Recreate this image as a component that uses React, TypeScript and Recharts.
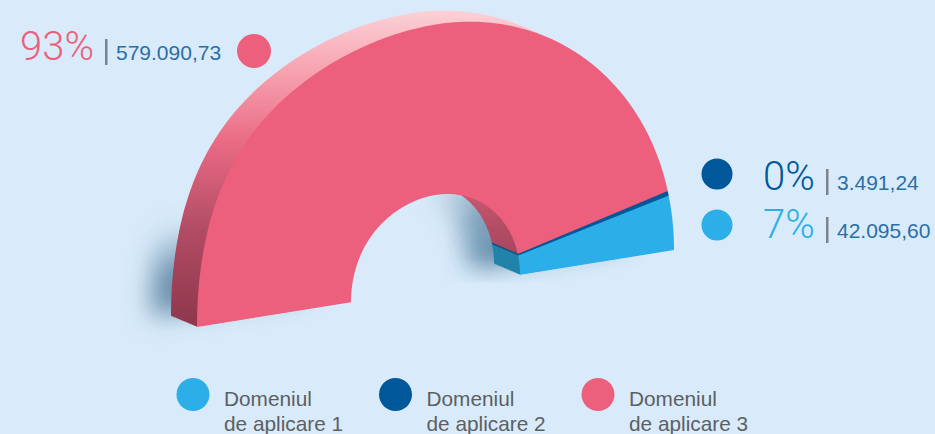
import React from 'react';
import { PieChart, Pie, Cell } from 'recharts';

const categories = ['Domeniul de aplicare 1', 'Domeniul de aplicare 2', 'Domeniul de aplicare 3'];
const values = [42095.6, 3491.24, 579090.73];
const percentLabels = ['7%', '0%', '93%'];
const valueLabels = ['42.095,60', '3.491,24', '579.090,73'];

const colors = ['#2cafe8', '#00589b', '#ed607d'];
const sideColors = ['#2183aa', '#0a4a80', 'url(#sideFill)'];

const data = categories.map((name, i) => ({ name, value: values[i] }));

const WIDTH = 935;
const HEIGHT = 434;
const OUTER = 238.5;
const INNER = 84.5;
const DEPTH_X = -26;
const DEPTH_Y = -11;

// the half ring is a tilted ellipse with some perspective on its left side,
// so project each sector by hand
const project = (cx: number, cy: number, r: number, deg: number, ox: number, oy: number) => {
    const rad = (deg * Math.PI) / 180;
    const dx = r * Math.cos(rad);
    const dy = -r * Math.sin(rad);
    const bulge = deg > 90 ? 11 * Math.pow(r / OUTER, 2) * Math.pow(Math.sin(2 * rad), 2) : 0;
    const x = cx + dx - bulge + ox;
    const y = cy - dx * 0.1614 + dy * 1.107 + oy;
    return `${x.toFixed(2)},${y.toFixed(2)}`;
};

// eslint-disable-next-line @typescript-eslint/no-explicit-any
const ringPath = (props: any, ox: number, oy: number) => {
    const { cx, cy, innerRadius, outerRadius, startAngle, endAngle } = props;
    const steps = Math.max(2, Math.ceil(Math.abs(endAngle - startAngle) * 2));
    const outer: string[] = [];
    const inner: string[] = [];
    for (let i = 0; i <= steps; i++) {
        const a = startAngle + ((endAngle - startAngle) * i) / steps;
        outer.push(project(cx, cy, outerRadius, a, ox, oy));
        inner.unshift(project(cx, cy, innerRadius, a, ox, oy));
    }
    return `M${outer.join('L')}L${inner.join('L')}Z`;
};

// eslint-disable-next-line @typescript-eslint/no-explicit-any
const FaceShape = (props: any) => <path d={ringPath(props, 0, 0)} fill={props.fill} stroke="none" />;

// eslint-disable-next-line @typescript-eslint/no-explicit-any
const SideShape = (props: any) => {
    const layers = [];
    for (let i = 27; i >= 1; i--) {
        const t = i / 27;
        layers.push(<path key={i} d={ringPath(props, DEPTH_X * t, DEPTH_Y * t)} fill={sideColors[props.index]} stroke="none" />);
    }
    return <g>{layers}</g>;
};

// eslint-disable-next-line @typescript-eslint/no-explicit-any
const OuterShadow = (props: any) => (
    <path d={ringPath(props, -46, -10)} fill="url(#outerShadowFill)" filter="url(#blurWide)" stroke="none" />
);

// eslint-disable-next-line @typescript-eslint/no-explicit-any
const HoleShadow = (props: any) => (
    <path d={ringPath(props, -50, -8)} fill="url(#holeShadowFill)" filter="url(#blurWide)" stroke="none" />
);

const pieProps = {
    data,
    dataKey: 'value',
    nameKey: 'name',
    cx: 435.5,
    cy: 288.5,
    innerRadius: INNER,
    outerRadius: OUTER,
    startAngle: 0,
    endAngle: 180,
    stroke: 'none',
    isAnimationActive: false,
    legendType: 'none' as const,
};

const sans = '"Liberation Sans", Arial, sans-serif';
const light = 'Roboto, "Liberation Sans", sans-serif';

interface LabelProps {
    index: number;
    textX: number;
    baseline: number;
    sepGap: number;
}

const ValueLabel = ({ index, textX, baseline, sepGap }: LabelProps) => (
    <g>
        <text x={textX} y={baseline} fontFamily={light} fontWeight={300} fontSize={40} fill={colors[index]}>
            {percentLabels[index]}
        </text>
        <rect x={textX + sepGap} y={baseline - 21} width={2.5} height={26} fill="#7b848c" />
        <text x={textX + sepGap + 11} y={baseline} fontFamily={sans} fontSize={21} fill="#2b6ea8">
            {valueLabels[index]}
        </text>
    </g>
);

const App = () => (
    <div style={{ position: 'absolute', left: 0, top: 0, width: WIDTH, height: HEIGHT, background: '#d9ebfa', overflow: 'hidden' }}>
        <PieChart width={WIDTH} height={HEIGHT} margin={{ top: 0, right: 0, bottom: 0, left: 0 }}>
            <defs>
                <linearGradient id="sideFill" gradientUnits="userSpaceOnUse" x1="0" y1="12" x2="0" y2="322">
                    <stop offset="0" stopColor="#fcd0d6" />
                    <stop offset="0.2" stopColor="#f6a0ae" />
                    <stop offset="0.42" stopColor="#ea6a84" />
                    <stop offset="0.7" stopColor="#b24c65" />
                    <stop offset="1" stopColor="#8f384d" />
                </linearGradient>
                <linearGradient id="outerShadowFill" gradientUnits="userSpaceOnUse" x1="0" y1="225" x2="0" y2="275">
                    <stop offset="0" stopColor="#3d6a8c" stopOpacity={0} />
                    <stop offset="1" stopColor="#3d6a8c" stopOpacity={0.72} />
                </linearGradient>
                <linearGradient id="holeShadowFill" gradientUnits="userSpaceOnUse" x1="425" y1="185" x2="465" y2="245">
                    <stop offset="0" stopColor="#3d6a8c" stopOpacity={0} />
                    <stop offset="1" stopColor="#3d6a8c" stopOpacity={0.7} />
                </linearGradient>
                <filter id="blurWide" x="-20%" y="-20%" width="140%" height="140%">
                    <feGaussianBlur stdDeviation="13" />
                </filter>
            </defs>

            <Pie {...pieProps} shape={OuterShadow}>
                {data.map((d) => <Cell key={d.name} fill="#3d6a8c" />)}
            </Pie>
            <Pie {...pieProps} shape={HoleShadow}>
                {data.map((d) => <Cell key={d.name} fill="#3d6a8c" />)}
            </Pie>
            <Pie {...pieProps} shape={SideShape}>
                {data.map((d, i) => <Cell key={d.name} fill={sideColors[i]} />)}
            </Pie>
            <Pie {...pieProps} shape={FaceShape}>
                {data.map((d, i) => <Cell key={d.name} fill={colors[i]} />)}
            </Pie>

            <ValueLabel index={2} textX={20} baseline={60} sepGap={85} />
            <circle cx={254} cy={51} r={17} fill={colors[2]} />
            <circle cx={717} cy={174} r={15.5} fill={colors[1]} />
            <ValueLabel index={1} textX={763} baseline={190} sepGap={63} />
            <circle cx={717} cy={225} r={15.5} fill={colors[0]} />
            <ValueLabel index={0} textX={763} baseline={238} sepGap={63} />

            {categories.map((name, i) => {
                const left = 193 + i * 202.5;
                const words = name.split(' ');
                return (
                    <g key={name}>
                        <circle cx={left} cy={394.5} r={16.5} fill={colors[i]} />
                        <text x={left + 31} y={406} fontFamily={sans} fontSize={20.8} fill="#5c5f63">{words[0]}</text>
                        <text x={left + 31} y={431} fontFamily={sans} fontSize={20.8} fill="#5c5f63">{words.slice(1).join(' ')}</text>
                    </g>
                );
            })}
        </PieChart>
    </div>
);

export default App;
